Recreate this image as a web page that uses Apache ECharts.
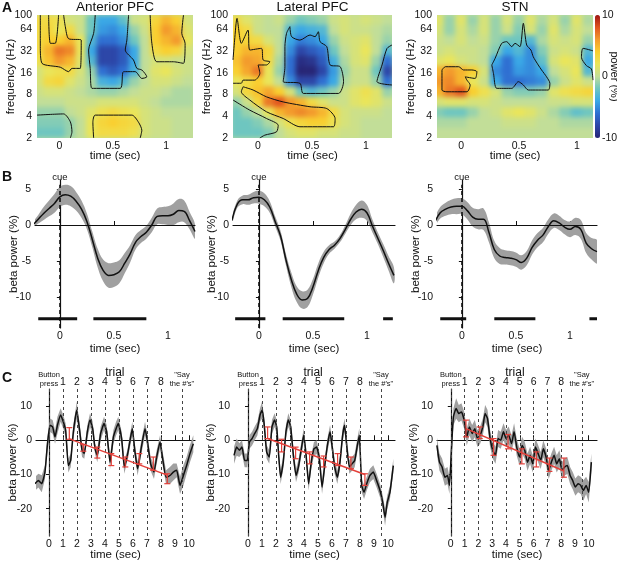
<!DOCTYPE html>
<html>
<head>
<meta charset="utf-8">
<script src="https://cdn.jsdelivr.net/npm/echarts@6.0.0/dist/echarts.min.js"></script>
<style>
  body { margin: 0; background: #fff; }
  #page { position: relative; width: 617px; height: 565px; overflow: hidden; }
  .hmwrap { position: absolute; overflow: hidden; z-index: 1; }
  .hminner { position: absolute; filter: blur(2.6px); }
  #main { position: absolute; left: 0; top: 0; width: 617px; height: 565px; z-index: 2; }
</style>
</head>
<body>
<div id="page"><div id="main"></div></div>
<script>
var FONT = "'Liberation Sans', Arial, Helvetica, sans-serif";

// ---------- A: time-frequency power change (%), rows from high to low frequency ----------
var hmTimes = [-0.2, -0.1, 0, 0.1, 0.2, 0.3, 0.4, 0.5, 0.6, 0.7, 0.8, 0.9, 1.0, 1.1, 1.2];
var hmFreqs = [85, 61, 44, 32, 23, 16.7, 12, 8.7, 6.3, 4.5, 3.3, 2.35];
var freqTicks = [2, 4, 8, 16, 32, 64, 100];
var mapTimeTicks = [0, 0.5, 1];
var mapTitles = ['Anterior PFC', 'Lateral PFC', 'STN'];

var powerAnt = [
  [3, 3, 2.5, 1, 0.5, -2, -4, -4, -2.5, 0.5, 1, 3.5, 5, 4, 1],
  [3, 3.5, 2, 3, 0.5, -2, -4.5, -5, -4, -1, 0.5, 4, 6, 5, 1.5],
  [3, 4, 4, 5, 2, -3, -6, -6, -5, -2, 0, 4, 5, 6, 2],
  [3, 5, 7, 6.5, 2, -4, -8, -8, -7, -4, 0, 3, 4, 3.5, 1],
  [2.5, 4.5, 6, 5, 1.5, -3, -8, -8, -7, -4, 0, 1, 1, 0.5, 0.5],
  [1, 2, 2.5, 3, 1, -1, -6, -7, -6, -3.5, 0, 1.5, 2, 1, 0.5],
  [1, 3, 3.5, 1.5, 0.5, -0.5, -3.5, -4, -3, -1, 0, 1, 1, 0.5, 0],
  [0.5, 1, 1, 0.5, 0, -0.5, -1, -1, -0.5, 0, 0.5, 0.5, 0, -0.5, -0.5],
  [0, 0, 0, 0.5, 0.5, 0.5, 1, 1, 1, 1, 0.5, 0, -0.5, -0.5, -0.5],
  [-1, -1, -1, 0, 0.5, 1.5, 2.5, 3, 2.5, 2, 1, 0.5, 0, 0, 0],
  [-1.5, -1.5, -1.5, -1, 0, 2, 3.5, 4, 3.5, 3, 1, 0.5, 0.5, 0, 0],
  [-2, -2, -2, -1, 0, 2, 3, 3, 3, 2.5, 1, 0.5, 0.5, 0, 0]
];
var powerLat = [
  [3, 1.5, 0.5, 0, 0.5, -1, -2, -1.5, -1, 0.5, 1, 0.5, 1, 0.5, 0],
  [4, 3, 0.5, 0, 0, -3, -4, -3.5, -3, 0, 1, 0.5, 0.5, 0, -0.5],
  [4, 3.5, 3, 1, 0, -4, -5.5, -5, -4, -1, 0.5, 1, 1.5, 0, -1],
  [4, 5, 5, 3.5, 0, -5, -8, -7, -6, -2, 0, 1, 2, 0, -3],
  [4.5, 6, 5.5, 3, -0.5, -6, -9.5, -9, -7, -3.5, -0.5, 1, 1.5, -1, -6],
  [4, 5.5, 7, 2, -1, -6, -10, -10, -8, -4.5, -1, 0.5, 0.5, -2, -8],
  [2, 3, 4, 2, 0, -5, -8, -8, -6, -4, -0.5, 0.5, 0.5, -1, -6],
  [1, 3.5, 4.5, 5.5, 4, 1, -2, -3, -2, -1, 0.5, 1.5, 2.5, 1.5, -1],
  [-1, 0.5, 3.5, 7, 8, 6, 5, 3, 1.5, 0.5, 0.5, 1.5, 2, 1.5, 0.5],
  [-2, -1, 0, 2, 5, 6, 6.5, 6, 5, 3, 1, 0.5, 0.5, 0.5, 0],
  [-2, -2, -1.5, -0.5, 1, 2.5, 3.5, 4, 4, 2.5, 1, 0.5, 0, 0, 0],
  [-2, -2, -2, -1.5, 0, 1, 1.5, 1.5, 1, 1, 0.5, 0.5, 0, 0, 0]
];
var powerStn = [
  [1.5, -1, 1.5, -1, 1, -1, 1, -1, 1.5, -0.5, 1, -1, 1.5, -0.5, 0.5],
  [1, -1, 1, -0.5, 1, -1, 0.5, -1.5, 1, -1, 1.5, -0.5, 1, 0, 0.5],
  [0.5, 0, 1, 0, 0.5, -1, -2, -2, -3, -0.5, 1, 0.5, 1, -1, 0],
  [0.5, 1, 0.5, 0.5, 0, -1.5, -4, -3, -5, -1.5, 0.5, 1, 0.5, -3, -1],
  [1.5, 2, 1, 0.5, 0, -4, -6, -4, -5, -2.5, 1, 2, 1.5, -4, -1],
  [5, 6, 5, 4, 1, -5, -6, -4.5, -5, -4, 0, 1, 2, -3, 0],
  [6, 6.5, 5, 2, 0.5, -4, -6, -6, -5.5, -5, -1, 0.5, 1.5, 0.5, 0],
  [5, 7, 8, 4, 2.5, 1, -1, -1.5, -1.5, -1, 1.5, 2.5, 3, 3.5, 3],
  [1, 1.5, 1.5, 1, 1, 0.5, 0, 0, 0, 0, 0.5, 0.5, 1, 1, 1],
  [-1.5, -2, -2, -1, 0, 0.5, 1.5, 2, 1.5, 0.5, -0.5, -1.5, -2.5, -2, -1],
  [-0.5, -0.5, -0.5, 0, 0, 0, 0.5, 0.5, 0.5, 0, 0, -0.5, -0.5, -0.5, 0],
  [0, 0, 0, 0, 0, 0, 0, 0, 0, 0, 0, 0, 0, 0, 0]
];

// significance outlines, points are [time (s), frequency (Hz)]
var contoursAnt = [
  [[-0.179, 100], [-0.179, 36.5], [-0.163, 21.5], [0.008, 19], [0.086, 16.5], [0.117, 18.3], [0.195, 18.3], [0.204, 45], [0.086, 47], [0.055, 69], [0.039, 100]],
  [[-0.101, 100], [-0.085, 40.6], [-0.039, 40.6], [-0.008, 100]],
  [[0.647, 100], [0.631, 45], [0.616, 32.8], [0.693, 23.9], [0.725, 18.3], [0.771, 17.4], [0.818, 14], [0.771, 13.3], [0.709, 16.5], [0.6, 16.5], [0.569, 9.7], [0.304, 9.7], [0.288, 18.3], [0.273, 32.8], [0.32, 55.8], [0.335, 100]],
  [[0.849, 100], [0.865, 40.6], [0.911, 22.6], [1.067, 22.6], [1.161, 21.5], [1.176, 40.6], [1.145, 55.8], [1.161, 100]],
  [[-0.21, 4.14], [0.039, 4.3], [0.102, 3.35], [0.117, 2.43], [0.102, 2]],
  [[0.32, 2], [0.313, 3.3], [0.335, 4.14], [0.678, 4.14], [0.74, 3.3], [0.771, 2.56], [0.756, 2]]
];
var contoursLat = [
  [[-0.23, 23.9], [-0.215, 45], [-0.193, 89.9], [-0.153, 40.6], [-0.091, 62], [-0.075, 32.8], [0.033, 34.6], [0.049, 23.9], [0.111, 22.6], [0.08, 20.4], [0.002, 20.4], [0.018, 15.6], [-0.029, 12.6], [-0.137, 12.6], [-0.153, 11.4], [-0.23, 11.4]],
  [[-0.137, 10.2], [-0.044, 9.2], [0.08, 7.4], [0.234, 6.3], [0.482, 5.4], [0.637, 5.1], [0.714, 3.72], [0.699, 2.86], [0.389, 2.86], [0.234, 3.72], [0.08, 4.6], [-0.075, 6.7], [-0.153, 8.7], [-0.137, 10.2]],
  [[-0.23, 6.7], [-0.075, 4.85], [0.08, 3.72], [0.188, 3.0], [0.172, 2.43], [0.064, 2.19], [0.018, 2]],
  [[0.296, 69], [0.312, 50.2], [0.389, 45], [0.482, 52.9], [0.529, 50.2], [0.559, 58.8], [0.575, 42.8], [0.637, 36.5], [0.668, 20.4], [0.761, 19.3], [0.792, 12], [0.745, 8.25], [0.42, 8.25], [0.389, 11.4], [0.234, 12], [0.25, 19.3], [0.25, 36.5], [0.265, 55.8], [0.296, 69]],
  [[1.24, 38.5], [1.194, 34.6], [1.148, 20.4], [1.101, 12], [1.24, 10.8]]
];
var contoursStn = [
  [[-0.167, 17.4], [-0.167, 9.2], [-0.124, 8.7], [0.049, 8.7], [0.077, 10.8], [0.049, 12.6], [0.034, 14], [0.12, 13.3], [0.135, 16.5], [0.092, 17.4], [0.02, 17.4], [-0.023, 19.3], [-0.138, 19.3], [-0.167, 17.4]],
  [[0.264, 20.4], [0.279, 15.6], [0.307, 9.7], [0.437, 9.7], [0.494, 12], [0.537, 10.8], [0.58, 9.2], [0.753, 9.2], [0.767, 11.4], [0.738, 14], [0.695, 17.4], [0.666, 20.4], [0.623, 26.5], [0.603, 32.8], [0.566, 38.5], [0.537, 76.7], [0.508, 36.5], [0.465, 40.6], [0.437, 36.5], [0.393, 42.8], [0.35, 40.6], [0.293, 25.2], [0.264, 20.4]],
  [[1.14, 32], [1.054, 34.6], [1.04, 26], [1.083, 20], [1.126, 18], [1.14, 12.6]]
];

var mapColors = ['#272576', '#2c46a8', '#2f6fd2', '#3aa8e6', '#6ec6c0', '#c2de98', '#eae55a', '#f9cf30', '#f39a2c', '#e0541f', '#9e1412'];

// ---------- B: beta power around the cue ----------
var bTime = [-0.25, -0.2, -0.15, -0.1, -0.05, 0, 0.05, 0.1, 0.15, 0.2, 0.25, 0.3, 0.35, 0.4, 0.45, 0.5,
  0.55, 0.6, 0.65, 0.7, 0.75, 0.8, 0.85, 0.9, 0.95, 1.0, 1.05, 1.1, 1.15, 1.2, 1.25];
var bMeanAnt = [0.0, 0.8, 1.6, 2.3, 3.0, 3.9, 4.2, 4.0, 3.3, 2.2, 0.5, -2.0, -4.6, -6.3, -7.0, -6.9,
  -6.5, -5.3, -4.0, -2.4, -1.6, -1.0, 0.0, 1.2, 1.3, 1.3, 1.5, 2.0, 1.9, 0.6, -0.9];
var bSeAnt = [0.3, 0.6, 0.9, 1.1, 1.3, 1.4, 1.4, 1.4, 1.3, 1.2, 1.1, 1.1, 1.3, 1.5, 1.7, 1.7,
  1.6, 1.4, 1.2, 1.0, 0.9, 0.9, 1.0, 1.1, 1.2, 1.3, 1.5, 1.6, 1.5, 1.2, 1.0];
var bMeanLat = [0.6, 2.9, 3.5, 3.5, 3.8, 3.85, 3.5, 2.5, 0.5, -1.5, -4.8, -7.6, -9.6, -10.4, -10.2, -8.6,
  -6.3, -4.5, -3.4, -2.8, -1.9, -0.6, 0.8, 1.8, 2.2, 1.7, -0.1, -1.8, -3.5, -5.3, -7.0];
var bSeLat = [0.4, 0.5, 0.6, 0.7, 0.8, 0.9, 0.9, 0.8, 0.7, 0.7, 0.8, 1.0, 1.1, 1.2, 1.2, 1.1,
  1.0, 0.8, 0.6, 0.5, 0.5, 0.6, 0.8, 1.0, 1.2, 1.1, 0.9, 0.8, 0.9, 1.0, 1.1];
var bMeanStn = [0.4, 1.7, 2.2, 2.5, 2.6, 2.6, 2.0, 1.1, 0.8, 0.8, -1.0, -3.4, -4.3, -4.5, -4.6, -4.8,
  -5.2, -4.6, -3.1, -2.1, -1.4, -0.2, 0.6, 0.3, -0.3, -0.6, -0.2, -0.6, -2.5, -3.3, -3.7];
var bSeStn = [0.5, 0.8, 0.9, 1.0, 1.1, 1.1, 1.2, 1.3, 1.4, 1.5, 1.4, 1.2, 1.1, 1.0, 1.0, 1.0,
  1.0, 1.0, 1.0, 1.0, 1.0, 1.0, 1.0, 1.0, 1.0, 1.1, 1.2, 1.3, 1.4, 1.5, 1.6];
var bSigAnt = [[-0.2, 0.16], [0.31, 0.80]];
var bSigLat = [[-0.22, 0.06], [0.22, 0.79], [1.15, 1.24]];
var bSigStn = [[-0.2, 0.04], [0.3, 0.68], [1.18, 1.25]];
var bSigLevel = -13;
var bTimeTicks = [0, 0.5, 1];
var bPowerTicks = [-10, -5, 0, 5];
var cueTop = 5.6;

// ---------- C: beta power across the trial sequence ----------
var cTimeAnt = [-1.0, -0.76, -0.52, -0.29, -0.12, 0.07, 0.26, 0.43, 0.6, 0.83, 1.02, 1.19, 1.38, 1.55, 1.74, 1.98,
  2.17, 2.36, 2.52, 2.74, 2.93, 3.12, 3.29, 3.45, 3.69, 3.93, 4.12, 4.36, 4.6, 4.79, 4.95, 5.19, 5.38, 5.6,
  5.79, 5.95, 6.14, 6.33, 6.62, 6.86, 7.02, 7.26, 7.5, 7.69, 7.93, 8.12, 8.36, 8.64, 8.88, 9.12, 9.36, 9.6,
  9.83, 10.07, 10.31];
var cMeanAnt = [-12.7, -11.8, -12.7, -9.3, -1.5, 4.4, 3.9, 1.0, 4.4, 7.4, 5.4, 2.9, -7.4, -5.9, 2.5, 8.8,
  3.4, -2.9, -3.9, 2.5, 5.9, 3.4, -2.5, -4.4, 2.0, 4.9, 2.5, -6.4, 1.0, 3.4, 4.9, 0.5, -7.8, -4.4,
  0.0, 3.4, -3.4, -8.3, -1.5, 3.4, 0.0, -6.9, -9.3, -4.9, -0.5, -5.4, -10.8, -10.3, -9.3, -8.8, -13.2, -10.3,
  -7.4, -3.9, -1.0];
var cSeAnt = [2, 2, 2.5, 2, 2.5, 2, 2, 2, 2.5, 2, 2, 2, 2, 2, 2, 2.5,
  2, 2, 1.5, 2, 2, 2, 1.5, 2, 2, 2, 2, 2, 2, 2, 2, 2, 2, 1.5,
  2, 2, 2, 2, 2, 2, 2, 2, 2, 2, 2, 2, 2, 2.5, 2.5, 2, 2.5, 3,
  2.5, 2.5, 2.5];
var cTimeLat = [-1.0, -0.81, -0.62, -0.43, -0.24, -0.05, 0.1, 0.29, 0.48, 0.67, 0.86, 1.0, 1.14, 1.33, 1.52, 1.71,
  1.9, 2.05, 2.19, 2.33, 2.52, 2.71, 2.88, 3.05, 3.24, 3.43, 3.62, 3.81, 3.98, 4.14, 4.33, 4.52, 4.71, 4.9,
  5.1, 5.29, 5.48, 5.67, 5.86, 6.0, 6.19, 6.38, 6.57, 6.76, 6.9, 7.05, 7.24, 7.43, 7.62, 7.81, 7.95, 8.12,
  8.29, 8.48, 8.71, 8.95, 9.19, 9.43, 9.62, 9.79, 9.95, 10.14, 10.38];
var cMeanLat = [-4.4, -2.0, -2.9, -2.0, -5.9, -5.9, -0.5, 0.5, 2.0, 3.4, 7.4, 8.8, 5.4, -3.4, -4.9, 3.9,
  5.9, 3.9, -4.4, -10.8, -6.4, 2.5, 5.9, 3.9, -4.4, -10.3, -7.4, -2.5, 1.5, -3.9, -12.7, -6.4, -2.5, -2.0,
  -5.4, -13.7, -7.4, -1.5, 2.5, -1.5, -7.8, -10.8, -6.4, 1.5, 4.4, -1.5, -7.8, -6.9, -5.9, -1.5, 1.5, -13.2,
  -15.2, -12.7, -10.3, -9.3, -11.8, -14.7, -18.1, -22.5, -18.1, -15.2, -7.4];
var cSeLat = [2.5, 2.5, 2, 2, 2, 2, 2, 2, 2, 2, 2, 2.5, 2, 2, 2, 2,
  2, 2, 2, 2, 2, 2, 2, 2, 2, 2, 2, 2, 2, 2, 2, 2, 2, 2,
  2, 2, 2, 2, 2, 2, 2, 2, 2, 2, 2, 2, 2, 2, 2, 2, 2, 2,
  2, 2, 2, 2, 2, 2, 2, 2.5, 2, 2, 2];
var cTimeStn = [-1.01, -0.82, -0.63, -0.43, -0.24, -0.1, 0.05, 0.19, 0.39, 0.58, 0.77, 0.97, 1.16, 1.35, 1.55, 1.74,
  1.93, 2.13, 2.32, 2.49, 2.66, 2.85, 3.04, 3.24, 3.43, 3.62, 3.82, 4.01, 4.2, 4.4, 4.59, 4.78, 4.98, 5.17,
  5.36, 5.56, 5.75, 5.94, 6.14, 6.33, 6.52, 6.71, 6.91, 7.1, 7.29, 7.49, 7.68, 7.87, 8.07, 8.26, 8.45, 8.65,
  8.84, 9.03, 9.23, 9.42, 9.61, 9.81, 10.0, 10.19];
var cMeanStn = [-1.5, -6.4, -7.8, -10.8, -10.3, -13.2, -2.5, 6.9, 9.3, 7.8, 8.3, 5.9, 1.0, 3.9, 2.0, 3.4,
  0.5, 1.5, 3.9, 7.8, 6.4, 0.5, -2.9, -4.4, 0.5, 0.0, 2.5, 0.5, 1.5, -1.0, 2.5, -2.0, -4.9, -1.5,
  -2.9, -6.4, -4.4, -6.9, -2.0, -3.9, -5.9, -2.5, -4.9, -8.8, -6.4, -4.4, -6.9, -5.4, -8.8, -7.8, -7.4, -10.3,
  -11.8, -13.7, -12.7, -13.2, -14.7, -13.2, -15.2, -6.4];
var cSeStn = [2.5, 2.5, 2.5, 2.5, 2.5, 2.5, 2.5, 2.5, 3, 2.5, 2.5, 2.5, 2.5, 2.5, 2.5, 2.5,
  2.5, 2.5, 2.5, 2.5, 2.5, 2.5, 2.5, 2.5, 2.5, 2.5, 2.5, 2.5, 2.5, 2.5, 2.5, 2.5, 2.5, 2.5,
  2.5, 2.5, 2.5, 2.5, 2.5, 2.5, 2.5, 2.5, 2.5, 2.5, 2.5, 2.5, 2.5, 2.5, 2.5, 2.5, 2.5, 2.5,
  2.5, 2.5, 2.5, 2.5, 3, 2.5, 3, 2.5];

// red linear fit (end points) and per-trial error bars
var cFitAnt = [[1.45, 0.4], [8.45, -10.2]];
var cFitLat = [[1.4, 0.5], [8.35, -10.0]];
var cFitStn = [[1.1, 3.4], [8.2, -9.0]];
var cBarTAnt = [1.45, 2.45, 3.45, 4.45, 5.45, 6.45, 7.45, 8.45];
var cBarLoAnt = [0.3, -3.2, -5.2, -7.4, -7.8, -6.9, -8.8, -12.7];
var cBarHiAnt = [3.7, -1.3, -2.0, -3.9, -4.9, -3.9, -4.9, -9.8];
var cBarTLat = [1.4, 2.4, 3.4, 4.4, 5.4, 6.4, 7.35, 8.35];
var cBarLoLat = [0.5, -3.4, -5.4, -6.9, -7.8, -7.4, -8.3, -13.2];
var cBarHiLat = [3.9, 0.3, -2.0, -3.4, -4.6, -3.9, -4.9, -9.8];
var cBarTStn = [1.1, 2.1, 3.1, 4.15, 5.15, 6.2, 7.15, 8.2];
var cBarLoStn = [1.0, 0.5, -4.4, -2.5, -6.9, -7.8, -9.1, -10.8];
var cBarHiStn = [5.9, 3.9, 0.5, 1.7, -2.5, -3.4, -5.2, -5.2];

var cEventT = [0, 1, 2, 3, 4, 5, 6, 7, 8, 9.5];
var cEventLabels = ['Button\npress', '1', '2', '3', '4', '5', '6', '7', '8', '"Say\nthe #\'s"'];
var cTimeTicks = [0, 1, 2, 3, 4, 5, 6, 7, 8, 9, 10];
var cPowerTicks = [-20, -10, 0, 10];
var trialWordT = [4.7, 4.65, 4.65];

// ---------- layout ----------
var mapBoxes = [
  {left: 37, top: 15, width: 156, height: 123, tmin: -0.21, tmax: 1.25},
  {left: 233, top: 15, width: 159, height: 123, tmin: -0.23, tmax: 1.24},
  {left: 437, top: 15, width: 156, height: 123, tmin: -0.21, tmax: 1.14}
];
var traceBoxes = [
  {left: 35, top: 180, width: 160, height: 148, tmin: -0.23, tmax: 1.25},
  {left: 233, top: 180, width: 162, height: 148, tmin: -0.24, tmax: 1.26},
  {left: 437, top: 180, width: 160, height: 148, tmin: -0.23, tmax: 1.25}
];
var traceY = [-14.3, 6.25];
var trialBoxes = [
  {left: 36, top: 389, width: 159, height: 147, tmin: -0.93, tmax: 10.43},
  {left: 234, top: 389, width: 161, height: 147, tmin: -1.0, tmax: 10.5},
  {left: 437, top: 389, width: 160, height: 147, tmin: -1.0, tmax: 10.6}
];
var trialY = [-28, 15];

var RED = '#e3403a';
var BAND = '#a0a0a0';
var INK = '#111';
var tickFont = {color: INK, fontFamily: FONT, fontSize: 10.5};
var nameFont = {color: INK, fontFamily: FONT, fontSize: 11.5};

// ---------- heat maps (blurred, underneath the axes layer) ----------
var page = document.getElementById('page');
var PAD = 10;
[powerAnt, powerLat, powerStn].forEach(function (rows, i) {
  var b = mapBoxes[i];
  var wrap = document.createElement('div');
  wrap.className = 'hmwrap';
  wrap.style.cssText = 'left:' + b.left + 'px;top:' + b.top + 'px;width:' + b.width + 'px;height:' + b.height + 'px;background:' + mapColors[5];
  var inner = document.createElement('div');
  inner.className = 'hminner';
  inner.style.cssText = 'left:' + (-PAD) + 'px;top:' + (-PAD) + 'px;width:' + (b.width + 2 * PAD) + 'px;height:' + (b.height + 2 * PAD) + 'px';
  wrap.appendChild(inner);
  page.insertBefore(wrap, page.firstChild);

  var pxps = b.width / (b.tmax - b.tmin);
  var cells = [];
  rows.forEach(function (row, r) {
    row.forEach(function (v, c) {
      cells.push([c, hmFreqs.length - 1 - r, v]);
    });
  });
  var hm = echarts.init(inner);
  hm.setOption({
    animation: false,
    backgroundColor: mapColors[5],
    grid: {left: PAD + (-0.25 - b.tmin) * pxps, top: PAD, width: 1.5 * pxps, height: b.height, outerBoundsMode: 'none'},
    xAxis: {type: 'category', data: hmTimes, show: false},
    yAxis: {type: 'category', data: hmFreqs.slice().reverse(), show: false},
    visualMap: {show: false, min: -10, max: 10, dimension: 2, inRange: {color: mapColors}},
    series: [{type: 'heatmap', data: cells}]
  });
});

// ---------- main layer ----------
var grids = [], xAxes = [], yAxes = [], series = [], graphics = [];

function textEl(x, y, s, extra) {
  return {
    type: 'text', x: x, y: y, silent: true,
    style: Object.assign({text: s, fill: INK, fontFamily: FONT, fontSize: 11, align: 'center', verticalAlign: 'middle'}, extra || {})
  };
}

function bandSeries(gi, t, mean, se, smooth) {
  return {
    type: 'custom', xAxisIndex: gi, yAxisIndex: gi, silent: true, clip: true, z: 1,
    data: t.map(function (x, k) { return [x, mean[k] - se[k], mean[k] + se[k]]; }),
    renderItem: function (params, api) {
      if (params.dataIndex !== 0) return null;
      var pts = [];
      for (var k = 0; k < t.length; k++) pts.push(api.coord([t[k], mean[k] + se[k]]));
      for (var m = t.length - 1; m >= 0; m--) pts.push(api.coord([t[m], mean[m] - se[m]]));
      return {type: 'polygon', shape: {points: pts, smooth: smooth}, style: {fill: BAND}};
    }
  };
}

function zip(t, v) {
  return t.map(function (x, k) { return [x, v[k]]; });
}

// A panels (grid 0-2)
var allContours = [contoursAnt, contoursLat, contoursStn];
mapBoxes.forEach(function (b, i) {
  grids.push({left: b.left, top: b.top, width: b.width, height: b.height, outerBoundsMode: 'none'});
  xAxes.push({
    gridIndex: i, type: 'value', min: b.tmin, max: b.tmax,
    axisLine: {show: false}, axisTick: {show: false}, splitLine: {show: false},
    axisLabel: Object.assign({customValues: mapTimeTicks, margin: 3}, tickFont),
    name: 'time (sec)', nameLocation: 'middle', nameGap: 12, nameMoveOverlap: false, nameTextStyle: nameFont
  });
  yAxes.push({
    gridIndex: i, type: 'value', min: 1, max: Math.log2(100),
    axisLine: {show: false}, axisTick: {show: false}, splitLine: {show: false},
    axisLabel: Object.assign({
      customValues: freqTicks.map(Math.log2), margin: 5,
      formatter: function (v) { return String(Math.round(Math.pow(2, v))); }
    }, tickFont),
    name: 'frequency (Hz)', nameLocation: 'middle', nameGap: 20, nameMoveOverlap: false, nameTextStyle: nameFont
  });
  allContours[i].forEach(function (path) {
    series.push({
      type: 'line', xAxisIndex: i, yAxisIndex: i, silent: true, showSymbol: false, smooth: 0.25, z: 5,
      data: path.map(function (p) { return [p[0], Math.log2(p[1])]; }),
      lineStyle: {color: INK, width: 1}
    });
  });
  graphics.push(textEl(b.left + b.width / 2, 7, mapTitles[i], {fontSize: 13.5}));
});

// B panels (grid 3-5)
var bMeans = [bMeanAnt, bMeanLat, bMeanStn];
var bSes = [bSeAnt, bSeLat, bSeStn];
var bSigs = [bSigAnt, bSigLat, bSigStn];
traceBoxes.forEach(function (b, j) {
  var gi = 3 + j;
  grids.push({left: b.left, top: b.top, width: b.width, height: b.height, outerBoundsMode: 'none'});
  xAxes.push({
    gridIndex: gi, type: 'value', min: b.tmin, max: b.tmax,
    axisLine: {show: true, lineStyle: {color: INK, width: 1.2}},
    axisTick: {show: true, inside: true, length: 4, customValues: bTimeTicks, lineStyle: {color: INK}},
    splitLine: {show: false},
    axisLabel: Object.assign({customValues: bTimeTicks, margin: 3}, tickFont),
    name: 'time (sec)', nameLocation: 'middle', nameGap: 15, nameMoveOverlap: false, nameTextStyle: nameFont
  });
  yAxes.push({
    gridIndex: gi, type: 'value', min: traceY[0], max: traceY[1],
    axisLine: {show: true, lineStyle: {color: INK, width: 1.2}},
    axisTick: {show: true, length: 3, customValues: bPowerTicks, lineStyle: {color: INK}},
    splitLine: {show: false},
    axisLabel: Object.assign({customValues: bPowerTicks, margin: 4}, tickFont),
    name: 'beta power (%)', nameLocation: 'middle', nameGap: 15, nameMoveOverlap: false, nameTextStyle: nameFont
  });
  series.push(bandSeries(gi, bTime, bMeans[j], bSes[j], 0.4));
  series.push({
    type: 'line', xAxisIndex: gi, yAxisIndex: gi, silent: true, showSymbol: false, smooth: 0.4, z: 3,
    data: zip(bTime, bMeans[j]),
    lineStyle: {color: INK, width: 1.5},
    markLine: {
      silent: true, symbol: ['none', 'none'], animation: false,
      data: [
        {yAxis: 0, lineStyle: {color: INK, width: 1, type: 'solid'}, label: {show: false}},
        [{coord: [0, traceY[0]], lineStyle: {color: INK, width: 1.6, type: [4, 3]},
          label: {show: true, position: 'end', distance: 2, formatter: 'cue', color: INK, fontFamily: FONT, fontSize: 9.5}},
         {coord: [0, cueTop]}]
      ]
    }
  });
  bSigs[j].forEach(function (s) {
    series.push({
      type: 'line', xAxisIndex: gi, yAxisIndex: gi, silent: true, showSymbol: false, z: 4,
      data: [[s[0], bSigLevel], [s[1], bSigLevel]],
      lineStyle: {color: INK, width: 3, cap: 'butt'}
    });
  });
});

// C panels (grid 6-8)
var cTimes = [cTimeAnt, cTimeLat, cTimeStn];
var cMeans = [cMeanAnt, cMeanLat, cMeanStn];
var cSes = [cSeAnt, cSeLat, cSeStn];
var cFits = [cFitAnt, cFitLat, cFitStn];
var cBars = [[cBarTAnt, cBarLoAnt, cBarHiAnt], [cBarTLat, cBarLoLat, cBarHiLat], [cBarTStn, cBarLoStn, cBarHiStn]];
trialBoxes.forEach(function (b, j) {
  var gi = 6 + j;
  grids.push({left: b.left, top: b.top, width: b.width, height: b.height, outerBoundsMode: 'none'});
  xAxes.push({
    gridIndex: gi, type: 'value', min: b.tmin, max: b.tmax,
    axisLine: {show: true, lineStyle: {color: INK, width: 1.2}},
    axisTick: {show: true, inside: true, length: 5, customValues: cTimeTicks, lineStyle: {color: INK}},
    splitLine: {show: false},
    axisLabel: Object.assign({customValues: cTimeTicks, margin: 3}, tickFont),
    name: 'time (sec)', nameLocation: 'middle', nameGap: 13, nameMoveOverlap: false, nameTextStyle: nameFont
  });
  yAxes.push({
    gridIndex: gi, type: 'value', min: trialY[0], max: trialY[1],
    axisLine: {show: true, lineStyle: {color: INK, width: 1.2}},
    axisTick: {show: true, length: 3, customValues: cPowerTicks, lineStyle: {color: INK}},
    splitLine: {show: false},
    axisLabel: Object.assign({customValues: cPowerTicks, margin: 4}, tickFont),
    name: 'beta power (%)', nameLocation: 'middle', nameGap: 17, nameMoveOverlap: false, nameTextStyle: nameFont
  });
  series.push(bandSeries(gi, cTimes[j], cMeans[j], cSes[j], 0));
  series.push({
    type: 'line', xAxisIndex: gi, yAxisIndex: gi, silent: true, showSymbol: false, smooth: 0.15, z: 3,
    data: zip(cTimes[j], cMeans[j]),
    lineStyle: {color: INK, width: 1.5},
    markLine: {
      silent: true, symbol: ['none', 'none'], animation: false,
      data: cEventT.map(function (t, k) {
        var small = (k === 0 || k === cEventT.length - 1);
        return {
          xAxis: t,
          lineStyle: {color: '#444', width: 1, type: [3, 3]},
          label: {show: true, position: 'end', distance: 1, formatter: cEventLabels[k], color: INK,
            fontFamily: FONT, fontSize: small ? 7.5 : 10.5, lineHeight: small ? 9 : 12}
        };
      })
    }
  });
  series.push({
    type: 'line', xAxisIndex: gi, yAxisIndex: gi, silent: true, showSymbol: false, z: 5,
    data: cFits[j], lineStyle: {color: RED, width: 1.5}
  });
  var bt = cBars[j][0], blo = cBars[j][1], bhi = cBars[j][2];
  series.push({
    type: 'custom', xAxisIndex: gi, yAxisIndex: gi, silent: true, z: 6,
    data: bt.map(function (t, k) { return [t, blo[k], bhi[k]]; }),
    renderItem: function (params, api) {
      var top = api.coord([api.value(0), api.value(2)]);
      var bot = api.coord([api.value(0), api.value(1)]);
      var w = 3;
      var st = {stroke: RED, lineWidth: 1.2};
      return {type: 'group', children: [
        {type: 'line', shape: {x1: top[0], y1: top[1], x2: bot[0], y2: bot[1]}, style: st},
        {type: 'line', shape: {x1: top[0] - w, y1: top[1], x2: top[0] + w, y2: top[1]}, style: st},
        {type: 'line', shape: {x1: bot[0] - w, y1: bot[1], x2: bot[0] + w, y2: bot[1]}, style: st}
      ]};
    }
  });
  var pxps = b.width / (b.tmax - b.tmin);
  graphics.push(textEl(b.left + (trialWordT[j] - b.tmin) * pxps, 373, 'trial', {fontSize: 12}));
});

// colour bar axis (grid 9)
grids.push({left: 595, top: 15, width: 5, height: 123, outerBoundsMode: 'none'});
xAxes.push({gridIndex: 9, type: 'value', min: 0, max: 1, show: false});
yAxes.push({
  gridIndex: 9, type: 'value', position: 'right', min: -10, max: 10, interval: 10,
  axisLine: {show: false}, axisTick: {show: false}, splitLine: {show: false},
  axisLabel: Object.assign({margin: 2}, tickFont),
  name: 'power (%)', nameLocation: 'middle', nameRotate: -90, nameGap: 9, nameMoveOverlap: false,
  nameTextStyle: {color: INK, fontFamily: FONT, fontSize: 11}
});

// panel letters
graphics.push(textEl(2, 8, 'A', {fontSize: 14, fontWeight: 'bold', align: 'left'}));
graphics.push(textEl(2, 177, 'B', {fontSize: 14, fontWeight: 'bold', align: 'left'}));
graphics.push(textEl(2, 378, 'C', {fontSize: 14, fontWeight: 'bold', align: 'left'}));

var chart = echarts.init(document.getElementById('main'));
chart.setOption({
  animation: false,
  backgroundColor: 'transparent',
  textStyle: {fontFamily: FONT},
  grid: grids,
  xAxis: xAxes,
  yAxis: yAxes,
  visualMap: [{
    type: 'continuous', show: true, seriesIndex: [], min: -10, max: 10, calculable: false,
    orient: 'vertical', itemWidth: 5, itemHeight: 123, left: 595, top: 15, padding: 0,
    inRange: {color: mapColors}
  }],
  series: series,
  graphic: graphics
});
</script>
</body>
</html>
